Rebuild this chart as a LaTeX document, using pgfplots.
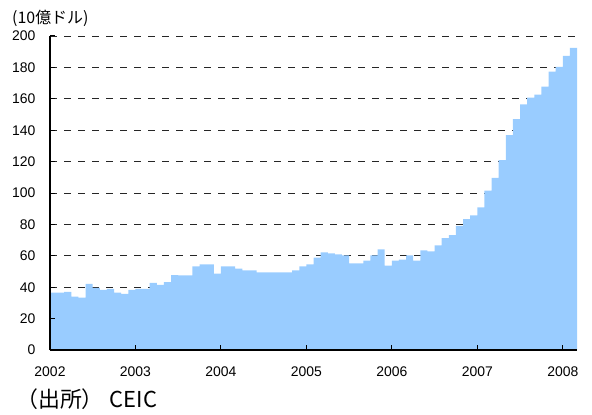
\documentclass[border=0pt]{standalone}
\usepackage{pgfplots}
\pgfplotsset{compat=1.18}
\usepackage{fontspec}
\setmainfont{Liberation Sans}
\newfontfamily\jp{Noto Sans CJK JP}
\definecolor{barblue}{HTML}{99CCFF}
\pgfplotsset{common/.style={
  at={(50bp,64bp)}, anchor=south west,
  scale only axis, width=527bp, height=314bp,
  xmin=0, xmax=74, ymin=0, ymax=200,
  axis x line*=bottom, axis y line*=left,
  xtick={0,12,...,72},
  ytick={0,20,...,200},
}}
\begin{document}
\begin{tikzpicture}[x=1bp,y=1bp]
\path (0,0) rectangle (592,414);
\begin{axis}[common,
  ymajorgrids,
  grid style={black!85, line width=0.9bp, dash pattern=on 7bp off 7bp},
  xticklabels={}, yticklabels={},
  major tick length=0pt,
  axis line style={draw=none},
]
\addplot[draw=none] coordinates {(0,0) (74,0)};
\end{axis}
\begin{axis}[common,
  axis on top,
  xticklabels={2002,2003,2004,2005,2006,2007,2008},
  tick align=inside,
  major tick length=5bp,
  tick style={black, line width=1bp},
  axis line style={black, line width=1.2bp},
  /pgf/number format/assume math mode=true,
  ticklabel style={font=\fontsize{14}{14}\selectfont, text=black},
  yticklabel style={xshift=-11bp},
  xticklabel style={yshift=-13bp},
]
\addplot[const plot, fill=barblue, draw=none] coordinates {
(0,36.5) (1,36.5) (2,37.1) (3,34.0) (4,33.3) (5,42.1) (6,39.6) (7,38.3)
(8,39.0) (9,36.5) (10,35.8) (11,38.3) (12,39.0) (13,39.0) (14,42.7) (15,41.5)
(16,43.3) (17,47.7) (18,47.6) (19,47.6) (20,53.2) (21,54.5) (22,54.5) (23,48.7)
(24,53.2) (25,53.2) (26,51.9) (27,50.7) (28,50.7) (29,49.4) (30,49.4) (31,49.4)
(32,49.4) (33,49.4) (34,50.7) (35,53.2) (36,54.5) (37,58.9) (38,62.2) (39,61.5)
(40,60.9) (41,60.2) (42,55.1) (43,55.1) (44,57.0) (45,60.2) (46,64.1) (47,53.8)
(48,57.0) (49,57.6) (50,60.2) (51,57.0) (52,63.4) (53,62.8) (54,66.7) (55,71.3)
(56,73.2) (57,79.0) (58,83.3) (59,85.8) (60,90.8) (61,101.5) (62,109.6) (63,121.0)
(64,136.8) (65,147.0) (66,156.4) (67,160.8) (68,162.7) (69,167.8) (70,177.3) (71,180.4)
(72,187.4) (73,192.4) (74,192.4)
} \closedcycle;
\end{axis}
\node[anchor=west, inner sep=0pt] at (12,396) {\jp\fontsize{16}{16}\selectfont (10億ドル)};
\node[anchor=west, inner sep=0pt] at (16,15) {\jp\fontsize{22}{22}\selectfont （出所）\hspace{6bp}CEIC};
\end{tikzpicture}
\end{document}
